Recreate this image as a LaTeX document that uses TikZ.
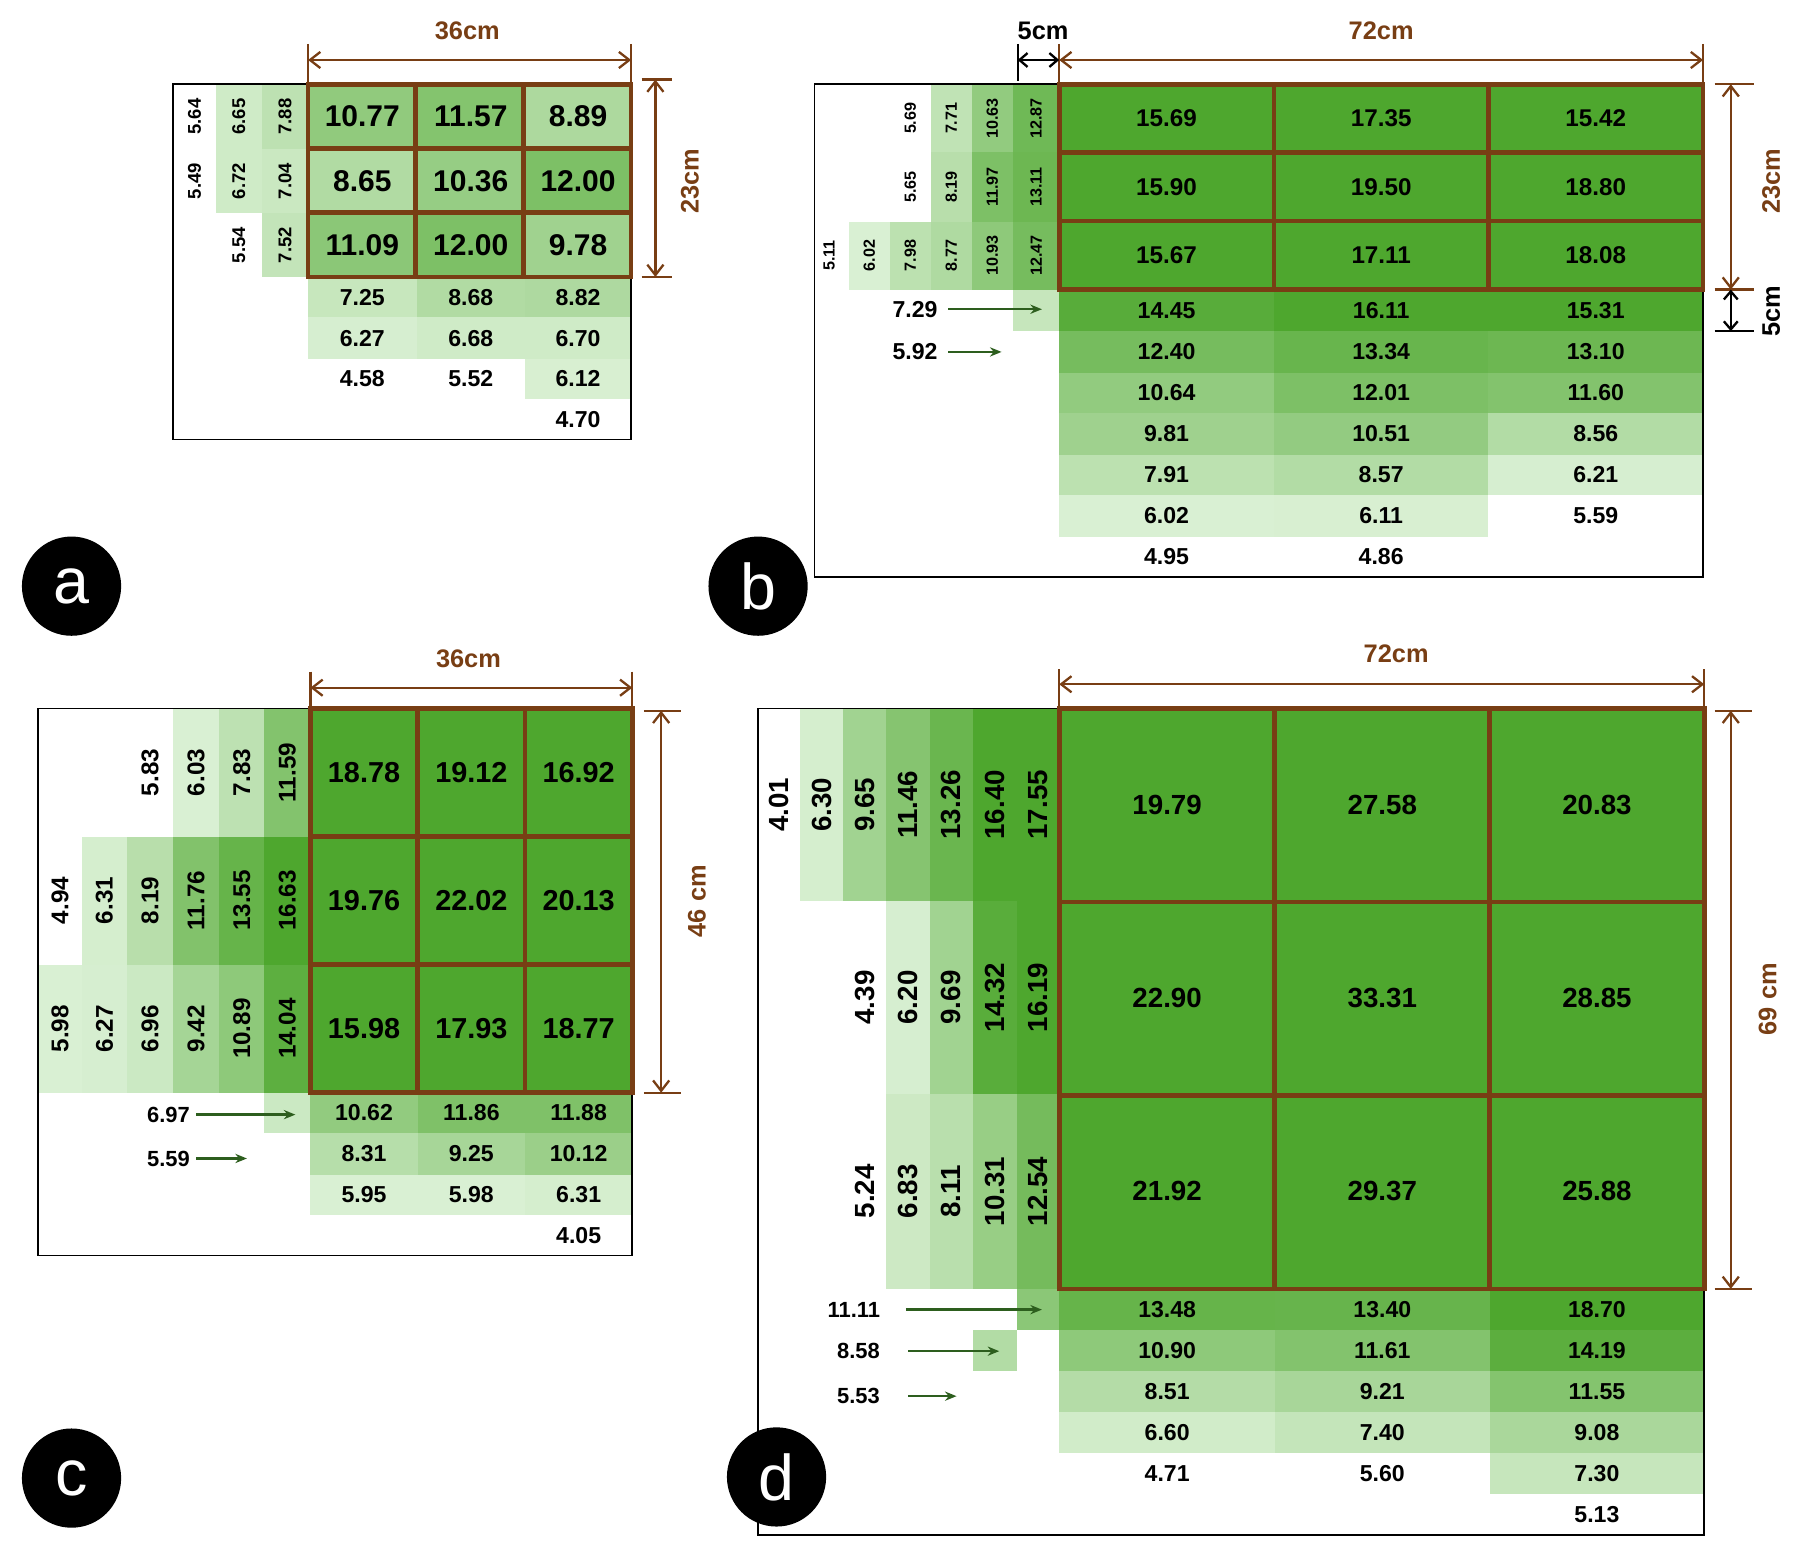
\documentclass[tikz,border=0pt]{standalone}
\usepackage{fontspec}
\setmainfont{Liberation Sans}
\usetikzlibrary{arrows.meta,calc}
\definecolor{dk}{RGB}{78,167,46}
\definecolor{lt}{RGB}{217,240,211}
\definecolor{brn}{RGB}{120,62,20}
\definecolor{agr}{RGB}{45,94,30}
\newcommand\fz[1]{\fontsize{#1}{#1}\selectfont\bfseries}
\newcommand\mycell[7]{\if\relax\detokenize{#5}\relax\else
 \pgfmathtruncatemacro\pp{max(0,min(100,(#5-6)/(15-6)*100))}%
 \ifdim #5pt<5.9pt\relax\else\fill[dk!\pp!lt] (#1,#2) rectangle (#3,#4);\fi
 \node[font=\fz{#6},rotate=#7,inner sep=0] at ($(#1,#2)!0.5!(#3,#4)$) {#5};\fi}
\newcommand\rowc[6]{\mycell{\xa}{#1}{\xb}{#2}{#3}{#6}{0}\mycell{\xb}{#1}{\xc}{#2}{#4}{#6}{0}\mycell{\xc}{#1}{\xd}{#2}{#5}{#6}{0}}
\newcommand\grd[4]{% x1 y1 x2 y2 : 3x3 brown grid
 \draw[brn,line width=4] (#1,#2) rectangle (#3,#4);
 \draw[brn,line width=4] ($(#1,#2)!1/3!(#3,#2)$) -- ($(#1,#4)!1/3!(#3,#4)$)
   ($(#1,#2)!2/3!(#3,#2)$) -- ($(#1,#4)!2/3!(#3,#4)$)
   ($(#1,#2)!1/3!(#1,#4)$) -- ($(#3,#2)!1/3!(#3,#4)$)
   ($(#1,#2)!2/3!(#1,#4)$) -- ($(#3,#2)!2/3!(#3,#4)$);}
\tikzset{dim/.style={brn,line width=2,{Straight Barb[length=9pt,width=14pt]}-{Straight Barb[length=9pt,width=14pt]}},
 tick/.style={brn,line width=2},
 dimt/.style={brn,font=\fz{22}},
 lab/.style={circle,fill=black,minimum size=86,inner sep=0,text=white,font=\fontsize{56}{56}\selectfont},
 arr/.style={agr,line width=2,-{Stealth[length=10pt,width=8pt]}},
 frm/.style={black,line width=1.5}}
\begin{document}
\begin{tikzpicture}[x=1pt,y=-1pt]
\useasboundingbox (0,0) rectangle (1560,1357);
% ================= a
\def\xa{267}\def\xb{361}\def\xc{455}\def\xd{547}
\rowc{73}{129}{10.77}{11.57}{8.89}{26}
\rowc{129}{185}{8.65}{10.36}{12.00}{26}
\rowc{185}{240}{11.09}{12.00}{9.78}{26}
\rowc{240}{275}{7.25}{8.68}{8.82}{20}
\rowc{275}{311}{6.27}{6.68}{6.70}{20}
\rowc{311}{346}{4.58}{5.52}{6.12}{20}
\rowc{346}{381}{}{}{4.70}{20}
\mycell{150}{73}{187}{129}{5.64}{16}{90}
\mycell{150}{129}{187}{185}{5.49}{16}{90}
\mycell{187}{73}{227}{129}{6.65}{16}{90}
\mycell{187}{129}{227}{185}{6.72}{16}{90}
\mycell{187}{185}{227}{240}{5.54}{16}{90}
\mycell{227}{73}{267}{129}{7.88}{16}{90}
\mycell{227}{129}{267}{185}{7.04}{16}{90}
\mycell{227}{185}{267}{240}{7.52}{16}{90}
\draw[frm] (150,73) rectangle (547,381);
\grd{267}{73}{547}{240}
\draw[tick] (267,38) -- (267,73) (547,38) -- (547,73) (556,69) -- (582,69) (556,240) -- (582,240);
\draw[dim] (267,52) -- (547,52);
\draw[dim] (568,69) -- (568,240);
\node[dimt] (da) at (405,27) {36cm};
\node[dimt,rotate=90] (da2) at (598,157) {23cm};
\node[lab] (la) at (62,508) {a};
% ================= b
\def\xa{918}\def\xb{1104}\def\xc{1290}\def\xd{1476}
\rowc{73}{132}{15.69}{17.35}{15.42}{21}
\rowc{132}{192}{15.90}{19.50}{18.80}{21}
\rowc{192}{251}{15.67}{17.11}{18.08}{21}
\rowc{251}{287}{14.45}{16.11}{15.31}{20}
\rowc{287}{323}{12.40}{13.34}{13.10}{20}
\rowc{323}{358}{10.64}{12.01}{11.60}{20}
\rowc{358}{394}{9.81}{10.51}{8.56}{20}
\rowc{394}{429}{7.91}{8.57}{6.21}{20}
\rowc{429}{465}{6.02}{6.11}{5.59}{20}
\rowc{465}{500}{4.95}{4.86}{}{20}
\mycell{701}{192}{736}{251}{5.11}{14}{90}
\mycell{736}{192}{771}{251}{6.02}{14}{90}
\mycell{771}{73}{807}{132}{5.69}{14}{90}
\mycell{771}{132}{807}{192}{5.65}{14}{90}
\mycell{771}{192}{807}{251}{7.98}{14}{90}
\mycell{807}{73}{842}{132}{7.71}{14}{90}
\mycell{807}{132}{842}{192}{8.19}{14}{90}
\mycell{807}{192}{842}{251}{8.77}{14}{90}
\mycell{842}{73}{878}{132}{10.63}{14}{90}
\mycell{842}{132}{878}{192}{11.97}{14}{90}
\mycell{842}{192}{878}{251}{10.93}{14}{90}
\mycell{878}{73}{918}{132}{12.87}{14}{90}
\mycell{878}{132}{918}{192}{13.11}{14}{90}
\mycell{878}{192}{918}{251}{12.47}{14}{90}
\pgfmathtruncatemacro\pp{(7.29-6)/9*100}
\fill[dk!\pp!lt] (878,251) rectangle (918,287);
\draw[frm] (706,73) rectangle (1476,500);
\grd{918}{73}{1476}{251}
\node[font=\fz{20}] (b1) at (793,268) {7.29};
\coordinate (b1e) at (903,268);
\draw[arr] (b1.east) ++(6,0) -- (b1e);
\node[font=\fz{20}] (b2) at (793,305) {5.92};
\coordinate (b2e) at (868,305);
\draw[arr] (b2.east) ++(6,0) -- (b2e);
\draw[tick] (918,38) -- (918,73) (1476,38) -- (1476,73) (1486,73) -- (1520,73) (1486,251) -- (1520,251);
\draw[black,line width=2] (882,38) -- (882,70) (1486,287) -- (1520,287);
\draw[dim] (918,52) -- (1476,52);
\draw[black,line width=2,{Straight Barb[length=7pt,width=12pt]}-{Straight Barb[length=7pt,width=12pt]}] (882,52) -- (918,52);
\draw[dim] (1500,73) -- (1500,251);
\draw[black,line width=2,{Straight Barb[length=7pt,width=12pt]}-{Straight Barb[length=7pt,width=12pt]}] (1500,251) -- (1500,287);
\node[dimt] (db) at (1197,27) {72cm};
\node[font=\fz{22}] (db0) at (904,27) {5cm};
\node[dimt,rotate=90] (db2) at (1535,157) {23cm};
\node[font=\fz{22},rotate=90] (db3) at (1535,270) {5cm};
\node[lab] (lb) at (657,508) {b};
% ================= c
\def\xa{269}\def\xb{362}\def\xc{455}\def\xd{548}
\rowc{614}{725}{18.78}{19.12}{16.92}{25}
\rowc{725}{836}{19.76}{22.02}{20.13}{25}
\rowc{836}{947}{15.98}{17.93}{18.77}{25}
\rowc{947}{982}{10.62}{11.86}{11.88}{20}
\rowc{982}{1018}{8.31}{9.25}{10.12}{20}
\rowc{1018}{1053}{5.95}{5.98}{6.31}{20}
\rowc{1053}{1088}{}{}{4.05}{20}
\mycell{33}{725}{71}{836}{4.94}{21}{90}
\mycell{33}{836}{71}{947}{5.98}{21}{90}
\mycell{71}{725}{110}{836}{6.31}{21}{90}
\mycell{71}{836}{110}{947}{6.27}{21}{90}
\mycell{110}{614}{150}{725}{5.83}{21}{90}
\mycell{110}{725}{150}{836}{8.19}{21}{90}
\mycell{110}{836}{150}{947}{6.96}{21}{90}
\mycell{150}{614}{190}{725}{6.03}{21}{90}
\mycell{150}{725}{190}{836}{11.76}{21}{90}
\mycell{150}{836}{190}{947}{9.42}{21}{90}
\mycell{190}{614}{229}{725}{7.83}{21}{90}
\mycell{190}{725}{229}{836}{13.55}{21}{90}
\mycell{190}{836}{229}{947}{10.89}{21}{90}
\mycell{229}{614}{269}{725}{11.59}{21}{90}
\mycell{229}{725}{269}{836}{16.63}{21}{90}
\mycell{229}{836}{269}{947}{14.04}{21}{90}
\pgfmathtruncatemacro\pp{(6.97-6)/9*100}
\fill[dk!\pp!lt] (229,947) rectangle (269,982);
\draw[frm] (33,614) rectangle (548,1088);
\grd{269}{614}{548}{947}
\node[font=\fz{19}] (c1) at (146,966) {6.97};
\coordinate (c1e) at (256,966);
\draw[arr] (c1.east) ++(2,0) -- (c1e);
\node[font=\fz{19}] (c2) at (146,1004) {5.59};
\coordinate (c2e) at (214,1004);
\draw[arr] (c2.east) ++(2,0) -- (c2e);
\draw[tick] (269,582) -- (269,614) (548,582) -- (548,614) (558,616) -- (590,616) (558,947) -- (590,947);
\draw[dim] (269,596) -- (548,596);
\draw[dim] (573,616) -- (573,947);
\node[dimt] (dc) at (406,571) {36cm};
\node[dimt,rotate=90] (dc2) at (604,781) {46 cm};
\node[lab] (lc) at (62,1281) {c};
% ================= d
\def\xa{918}\def\xb{1105}\def\xc{1291}\def\xd{1477}
\rowc{614}{781}{19.79}{27.58}{20.83}{24}
\rowc{781}{948}{22.90}{33.31}{28.85}{24}
\rowc{948}{1117}{21.92}{29.37}{25.88}{24}
\rowc{1117}{1153}{13.48}{13.40}{18.70}{20}
\rowc{1153}{1188}{10.90}{11.61}{14.19}{20}
\rowc{1188}{1224}{8.51}{9.21}{11.55}{20}
\rowc{1224}{1259}{6.60}{7.40}{9.08}{20}
\rowc{1259}{1295}{4.71}{5.60}{7.30}{20}
\rowc{1295}{1330}{}{}{5.13}{20}
\mycell{657}{614}{693}{781}{4.01}{24}{90}
\mycell{693}{614}{731}{781}{6.30}{24}{90}
\mycell{731}{614}{768}{781}{9.65}{24}{90}
\mycell{768}{614}{806}{781}{11.46}{24}{90}
\mycell{806}{614}{843}{781}{13.26}{24}{90}
\mycell{843}{614}{881}{781}{16.40}{24}{90}
\mycell{881}{614}{918}{781}{17.55}{24}{90}
\mycell{731}{781}{768}{948}{4.39}{24}{90}
\mycell{768}{781}{806}{948}{6.20}{24}{90}
\mycell{806}{781}{843}{948}{9.69}{24}{90}
\mycell{843}{781}{881}{948}{14.32}{24}{90}
\mycell{881}{781}{918}{948}{16.19}{24}{90}
\mycell{731}{948}{768}{1117}{5.24}{24}{90}
\mycell{768}{948}{806}{1117}{6.83}{24}{90}
\mycell{806}{948}{843}{1117}{8.11}{24}{90}
\mycell{843}{948}{881}{1117}{10.31}{24}{90}
\mycell{881}{948}{918}{1117}{12.54}{24}{90}
\pgfmathtruncatemacro\pp{(11.11-6)/9*100}
\fill[dk!\pp!lt] (881,1117) rectangle (918,1153);
\pgfmathtruncatemacro\pp{(8.58-6)/9*100}
\fill[dk!\pp!lt] (843,1153) rectangle (881,1188);
\draw[frm] (657,614) -- (918,614) (657,614) -- (657,1330) -- (1477,1330) -- (1477,614);
\grd{918}{614}{1477}{1117}
\node[font=\fz{19}] (d1) at (740,1135) {11.11};
\coordinate (d1s) at (785,1135); \coordinate (d1e) at (903,1135);
\draw[arr] (d1s) -- (d1e);
\node[font=\fz{19}] (d2) at (744,1171) {8.58};
\coordinate (d2s) at (787,1171); \coordinate (d2e) at (866,1171);
\draw[arr] (d2s) -- (d2e);
\node[font=\fz{19}] (d3) at (744,1210) {5.53};
\coordinate (d3s) at (787,1210); \coordinate (d3e) at (829,1210);
\draw[arr] (d3s) -- (d3e);
\draw[tick] (918,580) -- (918,612) (1477,580) -- (1477,612) (1486,616) -- (1518,616) (1486,1117) -- (1518,1117);
\draw[dim] (918,593) -- (1477,593);
\draw[dim] (1500,616) -- (1500,1117);
\node[dimt] (dd) at (1210,567) {72cm};
\node[dimt,rotate=90] (dd2) at (1532,866) {69 cm};
\node[lab] (ld) at (673,1280) {d};
\end{tikzpicture}
\end{document}
